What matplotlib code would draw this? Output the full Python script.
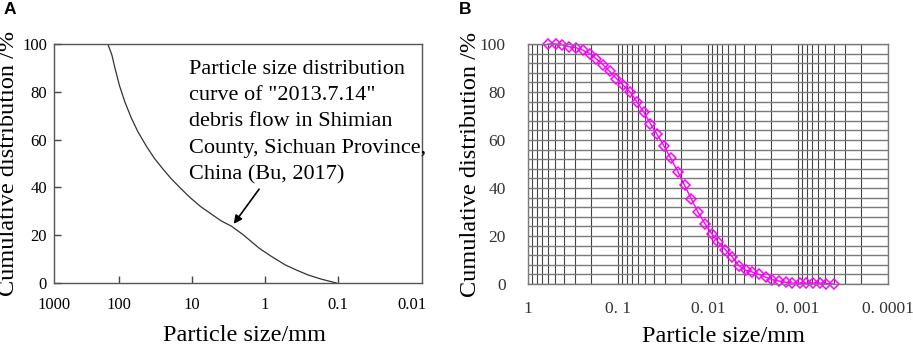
"""
Particle size distribution curves: (A) Shimian debris flow, (B) fine sample
"""

import numpy as np
import matplotlib
matplotlib.use("Agg")
import matplotlib.pyplot as plt
from matplotlib.ticker import LogLocator, NullFormatter

plt.rcParams["font.family"] = ["Liberation Serif", "DejaVu Serif"]

# Panel A: "2013.7.14" debris flow grading curve
size_a = [142, 125, 113, 98, 83, 68, 55, 42, 32.8, 25, 19.5, 14, 10.5,
          7.5, 5.65, 4.0, 2.9, 2.0, 1.2, 0.8, 0.526, 0.36, 0.255, 0.17,
          0.106]
cum_a = [100, 95.5, 89.8, 82.5, 75.8, 69.2, 63.3, 57.2, 52.2, 47.7, 43.8,
         39.3, 35.6, 31.8, 29.2, 26.0, 23.8, 20.2, 14.5, 10.9, 7.5, 5.2,
         3.3, 1.6, 0]
ticks_a = [773, 100, 10, 1, 0.1, 0.0098]
tick_labels_a = ["1000", "100", "10", "1", "0.1", "0.01"]
note_a = ("Particle size distribution\ncurve of \"2013.7.14\"\n"
          "debris flow in Shimian\nCounty, Sichuan Province,\n"
          "China (Bu, 2017)")

# Panel B: laser grading curve
size_b = [0.600, 0.493, 0.419, 0.350, 0.295, 0.245, 0.206, 0.174, 0.147,
          0.124, 0.104, 0.0880, 0.0730, 0.0615, 0.0514, 0.0437, 0.0369,
          0.0308, 0.0260, 0.0216, 0.0182, 0.0153, 0.0129, 0.0108, 0.0091,
          0.00768, 0.00641, 0.00537, 0.00453, 0.00381, 0.00322, 0.00271,
          0.00229, 0.00193, 0.00163, 0.00137, 0.00116, 0.000958, 0.000807,
          0.000681, 0.000574, 0.000484, 0.000402]
cum_b = [100, 100, 99.7, 98.9, 98.5, 97.4, 96.0, 93.8, 91.4, 88.6, 85.6,
         82.9, 79.9, 75.8, 71.5, 66.8, 62.4, 57.5, 52.4, 46.8, 41.1, 35.4,
         29.9, 25.1, 21.0, 17.4, 14.3, 11.3, 7.6, 5.7, 5.0, 4.0, 2.9, 1.8,
         1.25, 0.7, 0.4, 0.4, 0.4, 0.4, 0.4, 0.15, 0.0]
ticks_b = [1, 0.1, 0.01, 0.001, 0.0001]
tick_labels_b = ["1", "0. 1", "0. 01", "0. 001", "0. 0001"]

LABEL_SIZE = 17.5


def plot_panel_a(ax):
    """
    Draws the debris flow grading curve with its note and arrow
    """
    ax.plot(size_a, cum_a, color="#333333", lw=0.9)
    ax.set_xscale("log")
    ax.set_xlim(642, 0.00716)
    ax.set_ylim(0, 100)
    ax.minorticks_off()

    ax.set_xticks(ticks_a)
    ax.set_xticklabels(tick_labels_a)
    ax.set_yticks([0, 20, 40, 60, 80, 100])
    ax.tick_params(direction="in", length=5, width=1, labelsize=12,
                   color="#444444")
    ax.tick_params(axis="x", pad=10)
    ax.tick_params(axis="y", pad=5)
    ticks = ax.xaxis.get_major_ticks()
    ticks[0].tick1line.set_visible(False)
    ticks[-1].tick1line.set_visible(False)
    for s in ax.spines.values():
        s.set_color("#555555")
        s.set_linewidth(1)

    ax.text(11.1, 93.5, note_a, fontsize=16, va="top", ha="left",
            linespacing=1.53)
    ax.annotate("", xy=(2.83, 23.8), xytext=(1.15, 40.2),
                arrowprops=dict(arrowstyle="-|>", color="black", lw=1.2,
                                mutation_scale=12))

    ax.set_xlabel("Particle size/mm", fontsize=LABEL_SIZE)
    ax.set_ylabel("Cumulative distribution /%", fontsize=LABEL_SIZE)
    ax.xaxis.set_label_coords(0.519, -0.176)
    ax.yaxis.set_label_coords(-0.094, 0.5)


def plot_panel_b(ax):
    """
    Draws the fine grading curve on a log grid
    """
    ax.set_xscale("log")
    ax.set_xlim(1, 0.0001)
    ax.set_ylim(0, 100)

    ax.xaxis.set_major_locator(LogLocator(base=10))
    ax.xaxis.set_minor_locator(LogLocator(base=10, subs=np.arange(2, 10)))
    ax.xaxis.set_minor_formatter(NullFormatter())
    ax.set_xticks(ticks_b)
    ax.set_xticklabels(tick_labels_b)
    ax.set_yticks([0, 20, 40, 60, 80, 100])
    ax.set_yticks(np.arange(0, 101, 4), minor=True)

    ax.grid(True, which="both", axis="x", color="#444444", lw=0.8)
    ax.grid(True, which="both", axis="y", color="#7a7a7a", lw=1.0)
    ax.set_axisbelow(True)
    ax.tick_params(which="both", length=0, labelsize=12.5,
                   labelcolor="#333333")
    ax.tick_params(axis="x", pad=12)
    ax.tick_params(axis="y", pad=16)
    for s in ax.spines.values():
        s.set_color("#7a7a7a")
        s.set_linewidth(1)

    ax.plot(size_b, cum_b, color="#ff00ff", lw=1, marker="D", ms=4.8,
            mfc="none", mec="#ff00ff", mew=1.1, clip_on=False)

    ax.set_xlabel("Particle size/mm", fontsize=LABEL_SIZE)
    ax.set_ylabel("Cumulative distribution /%", fontsize=LABEL_SIZE)
    ax.xaxis.set_label_coords(0.542, -0.174)
    ax.yaxis.set_label_coords(-0.131, 0.5)


def main():
    fig = plt.figure(figsize=(9.13, 3.46), dpi=100)
    ax_a = fig.add_axes([0.0591, 0.1821, 0.4031, 0.6908])
    ax_b = fig.add_axes([0.5783, 0.1792, 0.3943, 0.6936])

    plot_panel_a(ax_a)
    plot_panel_b(ax_b)

    # Panel letters
    fig.text(0.004, 0.995, "A", fontsize=12.5, fontweight="bold",
             family="Liberation Sans", va="top")
    fig.text(0.503, 0.995, "B", fontsize=12.5, fontweight="bold",
             family="Liberation Sans", va="top")

    fig.savefig("out.png", dpi=100)


if __name__ == "__main__":
    main()
